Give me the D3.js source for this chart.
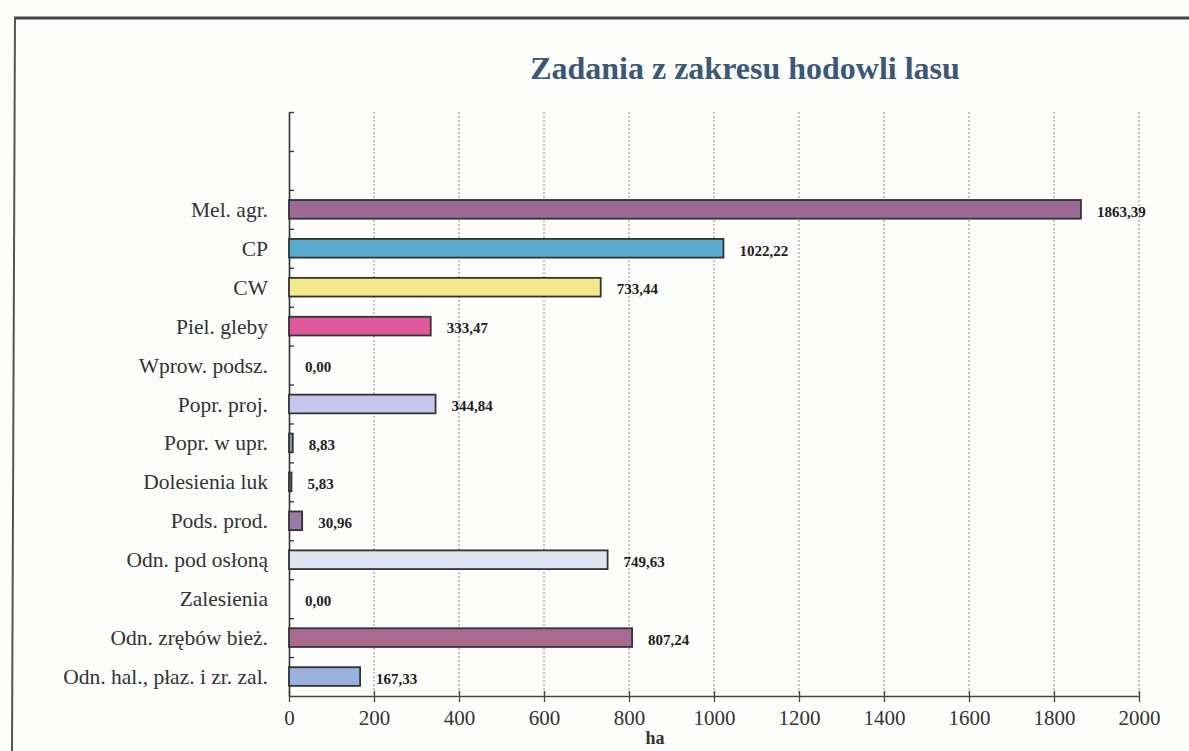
<!DOCTYPE html>
<html>
<head>
<meta charset="utf-8">
<script src="https://cdn.jsdelivr.net/npm/d3@7"></script>
<style>
  html, body { margin: 0; padding: 0; background: #fdfdfc; }
  svg { display: block; }
  text { font-family: "Liberation Serif", "Times New Roman", serif; }
</style>
</head>
<body>
<div id="chart"></div>
<script>
  // chart data, top to bottom
  const categories = [
    "Mel. agr.", "CP", "CW", "Piel. gleby", "Wprow. podsz.", "Popr. proj.",
    "Popr. w upr.", "Dolesienia luk", "Pods. prod.", "Odn. pod osłoną",
    "Zalesienia", "Odn. zrębów bież.", "Odn. hal., płaz. i zr. zal."
  ];
  const values = [1863.39, 1022.22, 733.44, 333.47, 0, 344.84, 8.83, 5.83, 30.96, 749.63, 0, 807.24, 167.33];
  const barColors = [
    "#9b6b95", "#5babd0", "#f1e98c", "#df589c", "#cccccc", "#c7c5ec",
    "#7f9bb6", "#7a7a7a", "#9a7aab", "#dfe3f3", "#cccccc", "#a96a92", "#9ab1de"
  ];
  const xTicks = [0, 200, 400, 600, 800, 1000, 1200, 1400, 1600, 1800, 2000];
  const emptySlots = 2; // empty rows above the first bar

  const width = 1189, height = 751;
  const plotLeft = 289, plotRight = 1139, plotTop = 112, plotBottom = 696;

  const rows = categories.map((c, i) => ({ name: c, value: values[i], color: barColors[i], slot: i + emptySlots }));

  const svg = d3.select("#chart").append("svg")
    .attr("width", width)
    .attr("height", height);

  // frame of the scanned page
  svg.append("line")
    .attr("x1", 14).attr("y1", 18).attr("x2", width).attr("y2", 18)
    .attr("stroke", "#444").attr("stroke-width", 3);
  svg.append("line")
    .attr("x1", 15).attr("y1", 17).attr("x2", 12).attr("y2", height)
    .attr("stroke", "#555").attr("stroke-width", 2);

  svg.append("text")
    .attr("x", 745)
    .attr("y", 79)
    .attr("text-anchor", "middle")
    .attr("font-size", 32)
    .attr("font-weight", "bold")
    .attr("fill", "#3b5877")
    .text("Zadania z zakresu hodowli lasu");

  const x = d3.scaleLinear().domain([0, 2000]).range([plotLeft, plotRight]);

  const slots = d3.range(categories.length + emptySlots);
  const y = d3.scaleBand().domain(slots).range([plotTop, plotBottom]).paddingInner(0.52).paddingOuter(0.26);
  const yEdge = d3.scaleLinear().domain([0, slots.length]).range([plotTop, plotBottom]);

  // dotted vertical grid
  svg.append("g")
    .selectAll("line")
    .data(xTicks.slice(1))
    .enter().append("line")
    .attr("x1", d => x(d)).attr("x2", d => x(d))
    .attr("y1", plotTop).attr("y2", plotBottom)
    .attr("stroke", "#8a8a8a")
    .attr("stroke-width", 1)
    .attr("stroke-dasharray", "2,2");

  // x axis
  const xAxis = svg.append("g")
    .attr("transform", `translate(0,${plotBottom})`)
    .call(d3.axisBottom(x).tickValues(xTicks).tickSize(6).tickSizeOuter(0).tickPadding(8).tickFormat(d3.format("d")));
  xAxis.select(".domain").attr("stroke", "#444").attr("stroke-width", 1.3);
  xAxis.selectAll(".tick line").attr("y1", -5).attr("stroke", "#444").attr("stroke-width", 1.3);
  xAxis.selectAll(".tick text")
    .attr("font-family", "Liberation Serif, serif")
    .attr("font-size", 21)
    .attr("fill", "#333");

  svg.append("text")
    .attr("x", 655)
    .attr("y", 744)
    .attr("text-anchor", "middle")
    .attr("font-size", 18)
    .attr("font-weight", "bold")
    .attr("fill", "#333")
    .text("ha");

  // y axis with ticks on row boundaries
  const yAxis = svg.append("g")
    .attr("transform", `translate(${plotLeft},0)`)
    .call(d3.axisLeft(yEdge).tickValues(d3.range(slots.length)).tickSize(5).tickSizeOuter(0).tickFormat(""));
  yAxis.select(".domain").attr("stroke", "#333").attr("stroke-width", 1.6);
  yAxis.selectAll(".tick line").attr("x2", 5).attr("stroke", "#333").attr("stroke-width", 1.3);

  // category labels
  svg.append("g")
    .selectAll("text")
    .data(rows)
    .enter().append("text")
    .attr("x", plotLeft - 21)
    .attr("y", d => y(d.slot) + y.bandwidth() / 2)
    .attr("dy", "0.35em")
    .attr("text-anchor", "end")
    .attr("font-size", 21.5)
    .attr("fill", "#333")
    .text(d => d.name);

  // bars
  svg.append("g")
    .selectAll("rect")
    .data(rows.filter(d => d.value > 0))
    .enter().append("rect")
    .attr("x", x(0))
    .attr("y", d => y(d.slot))
    .attr("width", d => x(d.value) - x(0))
    .attr("height", y.bandwidth())
    .attr("fill", d => d.color)
    .attr("stroke", "#333")
    .attr("stroke-width", 1.8);

  // value labels
  svg.append("g")
    .selectAll("text")
    .data(rows)
    .enter().append("text")
    .attr("x", d => x(d.value) + 16)
    .attr("y", d => y(d.slot) + y.bandwidth() / 2 + 2)
    .attr("dy", "0.35em")
    .attr("font-size", 15)
    .attr("font-weight", "bold")
    .attr("fill", "#222")
    .text(d => d3.format(".2f")(d.value).replace(".", ","));
</script>
</body>
</html>
